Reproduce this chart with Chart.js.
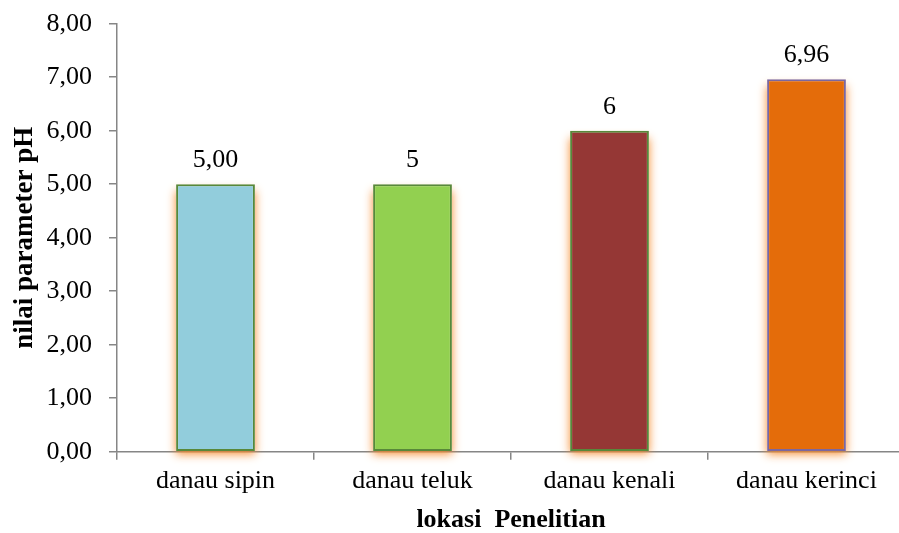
<!DOCTYPE html>
<html>
<head>
<meta charset="utf-8">
<script src="https://cdn.jsdelivr.net/npm/chart.js@4.4.1/dist/chart.umd.min.js"></script>
<style>
  html, body { margin: 0; padding: 0; background: #fff; overflow: hidden; }
  #wrap { position: relative; width: 920px; height: 533px; }
</style>
</head>
<body>
<div id="wrap"><canvas id="chart"></canvas></div>
<script>
// pH per lake
const categories = ['danau sipin', 'danau teluk', 'danau kenali', 'danau kerinci'];
const phValues = [5.00, 5, 6, 6.96];
const valueDecimals = [2, 0, 0, 2];
const yTickLabels = ['0,00', '1,00', '2,00', '3,00', '4,00', '5,00', '6,00', '7,00', '8,00'];

const barColors = ['#92CDDC', '#92D050', '#953735', '#E46C0A'];
const barBorders = ['#58883A', '#58883A', '#58883A', '#7B67A0'];

const FONT = '"Liberation Serif", "Times New Roman", serif';

function formatValue(v, d) {
  return v.toFixed(d).replace('.', ',');
}

// soft orange halo behind each bar, using the bar geometry from the scales
const glowPlugin = {
  id: 'barGlow',
  beforeDatasetsDraw(chart) {
    const ctx = chart.ctx;
    const meta = chart.getDatasetMeta(0);
    ctx.save();
    ctx.shadowColor = 'rgba(245, 135, 40, 0.95)';
    ctx.shadowBlur = 9;
    ctx.shadowOffsetY = 3;
    ctx.fillStyle = '#ffffff';
    meta.data.forEach((bar) => {
      const p = bar.getProps(['x', 'y', 'base', 'width'], true);
      const top = Math.min(p.y, p.base);
      const h = Math.abs(p.base - p.y);
      ctx.fillRect(p.x - p.width / 2, top + 4, p.width, h - 4);
    });
    ctx.restore();
  }
};

// value written above each bar
const valueLabelPlugin = {
  id: 'valueLabels',
  afterDatasetsDraw(chart) {
    const ctx = chart.ctx;
    const meta = chart.getDatasetMeta(0);
    ctx.save();
    ctx.font = '26px ' + FONT;
    ctx.fillStyle = '#000';
    ctx.textAlign = 'center';
    ctx.textBaseline = 'alphabetic';
    meta.data.forEach((bar, i) => {
      ctx.fillText(formatValue(phValues[i], valueDecimals[i]), bar.x, bar.y - 17);
    });
    ctx.restore();
  }
};

new Chart(document.getElementById('chart'), {
  type: 'bar',
  data: {
    labels: categories,
    datasets: [{
      data: phValues,
      backgroundColor: barColors,
      borderColor: barBorders,
      borderWidth: 2,
      borderSkipped: false,
      categoryPercentage: 1.0,
      barPercentage: 0.4
    }]
  },
  options: {
    responsive: true,
    maintainAspectRatio: false,
    animation: false,
    devicePixelRatio: 1,
    layout: { padding: { left: 2, right: 15, top: 10, bottom: 0 } },
    plugins: {
      legend: { display: false },
      tooltip: { enabled: false }
    },
    scales: {
      x: {
        offset: true,
        grid: {
          offset: true,
          drawOnChartArea: false,
          drawTicks: true,
          tickLength: 8,
          color: '#868686',
          lineWidth: 1.5
        },
        border: { color: '#868686', width: 1.5 },
        ticks: {
          color: '#000',
          font: { family: FONT, size: 26 },
          padding: 6,
          maxRotation: 0
        },
        title: {
          display: true,
          text: 'lokasi  Penelitian',
          color: '#000',
          font: { family: FONT, size: 26, weight: 'bold', lineHeight: 1 },
          padding: 0
        },
        afterFit(scale) { scale.height = 81.3; }
      },
      y: {
        min: 0,
        max: 8,
        grid: {
          drawOnChartArea: false,
          drawTicks: true,
          tickLength: 8,
          color: '#868686',
          lineWidth: 1.5
        },
        border: { color: '#868686', width: 1.5 },
        ticks: {
          stepSize: 1,
          color: '#000',
          font: { family: FONT, size: 26, lineHeight: 0.515 },
          padding: 17,
          callback: (v, i) => yTickLabels[i]
        },
        title: {
          display: true,
          text: 'nilai parameter pH',
          color: '#000',
          font: { family: FONT, size: 27, weight: 'bold', lineHeight: 1 },
          padding: { top: 10, bottom: 0 }
        },
        afterFit(scale) { scale.width = 115; }
      }
    }
  },
  plugins: [glowPlugin, valueLabelPlugin]
});
</script>
</body>
</html>
